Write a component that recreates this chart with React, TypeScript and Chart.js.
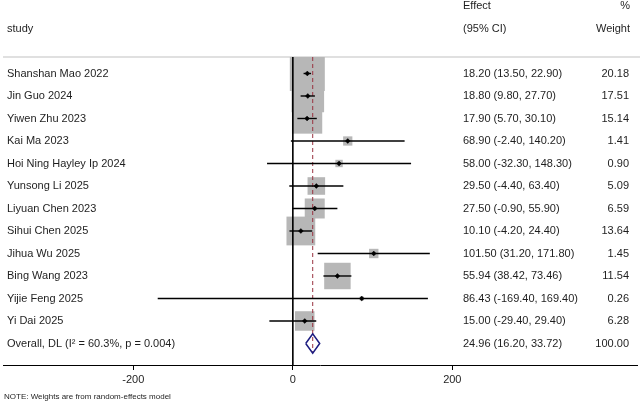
import React, { useEffect, useRef } from "react";
import { Chart, registerables } from "chart.js";

Chart.register(...registerables);

// Study-level estimates (random-effects meta-analysis)
const studies = [
  "Shanshan Mao 2022",
  "Jin Guo 2024",
  "Yiwen Zhu 2023",
  "Kai Ma 2023",
  "Hoi Ning Hayley Ip 2024",
  "Yunsong Li 2025",
  "Liyuan Chen 2023",
  "Sihui Chen 2025",
  "Jihua Wu 2025",
  "Bing Wang 2023",
  "Yijie Feng 2025",
  "Yi Dai 2025",
];
const effects = [18.2, 18.8, 17.9, 68.9, 58.0, 29.5, 27.5, 10.1, 101.5, 55.94, 86.43, 15.0];
const lower = [13.5, 9.8, 5.7, -2.4, -32.3, -4.4, -0.9, -4.2, 31.2, 38.42, -169.4, -29.4];
const upper = [22.9, 27.7, 30.1, 140.2, 148.3, 63.4, 55.9, 24.4, 171.8, 73.46, 169.4, 29.4];
const weights = [20.18, 17.51, 15.14, 1.41, 0.9, 5.09, 6.59, 13.64, 1.45, 11.54, 0.26, 6.28];

// Pooled estimate
const overallEffect = 24.96;
const overallLower = 16.2;
const overallUpper = 33.72;
const overallWeight = 100.0;
const overallLabel = "Overall, DL (I\u00B2 = 60.3%, p = 0.004)";

const xTicks = [-200, 0, 200];
const noteText = "NOTE: Weights are from random-effects model";

const FONT = "'Liberation Sans', Arial, sans-serif";
const TEXT_COLOR = "#1e1e1e";
const BOX_COLOR = "#b7b7b7";
const DIAMOND_COLOR = "#1c1c80";
const REF_COLOR = "#9a3340";

const overallRow = studies.length;
const Y_MIN = -0.733;
const Y_MAX = 12.956;
const DIAMOND_HALF = 0.43;
const MAX_BOX_SIDE = 35; // side of the heaviest study's square, px

const fmt = (v: number) => v.toFixed(2);
const ciText = (e: number, lo: number, hi: number) => `${fmt(e)} (${fmt(lo)}, ${fmt(hi)})`;

const forestText = {
  id: "forestText",
  beforeDatasetsDraw(chart: any) {
    const { ctx, chartArea } = chart;
    ctx.save();
    ctx.strokeStyle = "#d6d6d6";
    ctx.lineWidth = 1.5;
    ctx.beginPath();
    ctx.moveTo(chartArea.left, chartArea.top);
    ctx.lineTo(chartArea.right + 3, chartArea.top);
    ctx.stroke();
    ctx.restore();
  },
  afterDraw(chart: any) {
    const { ctx, scales } = chart;
    const ys = scales.y;
    const xLabel = 7;
    const xCi = 463;
    const xW = 629;
    ctx.save();
    ctx.fillStyle = TEXT_COLOR;
    ctx.font = `11px ${FONT}`;
    ctx.textBaseline = "middle";

    // column headers
    ctx.textAlign = "left";
    ctx.fillText("Effect", xCi, ys.getPixelForValue(-3));
    ctx.fillText("study", xLabel, ys.getPixelForValue(-2));
    ctx.fillText("(95% CI)", xCi, ys.getPixelForValue(-2));
    ctx.textAlign = "right";
    ctx.fillText("%", xW + 1, ys.getPixelForValue(-3));
    ctx.fillText("Weight", xW + 1, ys.getPixelForValue(-2));

    // rows
    studies.forEach((s, i) => {
      const y = ys.getPixelForValue(i);
      ctx.textAlign = "left";
      ctx.fillText(s, xLabel, y);
      ctx.fillText(ciText(effects[i], lower[i], upper[i]), xCi, y);
      ctx.textAlign = "right";
      ctx.fillText(fmt(weights[i]), xW, y);
    });
    const yo = ys.getPixelForValue(overallRow);
    ctx.textAlign = "left";
    ctx.fillText(overallLabel, xLabel, yo);
    ctx.fillText(ciText(overallEffect, overallLower, overallUpper), xCi, yo);
    ctx.textAlign = "right";
    ctx.fillText(fmt(overallWeight), xW, yo);

    // footnote
    ctx.textAlign = "left";
    ctx.font = `8px ${FONT}`;
    ctx.fillText(noteText, 4, 397);
    ctx.restore();
  },
};

export default function App() {
  const canvasRef = useRef<HTMLCanvasElement | null>(null);

  useEffect(() => {
    if (!canvasRef.current) return;

    const boxData = studies.map((_, i) => ({ x: effects[i], y: i }));
    const boxRadius = weights.map(
      (w) => ((MAX_BOX_SIDE / Math.SQRT2) * Math.sqrt(w / Math.max(...weights)))
    );

    const ciSets = studies.map((_, i) => ({
      type: "scatter" as const,
      data: [
        { x: lower[i], y: i },
        { x: upper[i], y: i },
      ],
      showLine: true,
      borderColor: "#000",
      borderWidth: 1.4,
      pointRadius: 0,
      order: 2,
    }));

    const chart = new Chart(canvasRef.current, {
      type: "scatter",
      data: {
        datasets: [
          {
            data: boxData,
            pointStyle: "rect",
            pointRadius: boxRadius,
            pointBackgroundColor: BOX_COLOR,
            pointBorderWidth: 0,
            borderWidth: 0,
            order: 6,
          },
          {
            data: [
              { x: 0, y: Y_MIN },
              { x: 0, y: Y_MAX },
            ],
            showLine: true,
            borderColor: "#000",
            borderWidth: 1,
            pointRadius: 0,
            order: 5,
          },
          {
            data: [
              { x: overallEffect, y: Y_MIN },
              { x: overallEffect, y: overallRow + DIAMOND_HALF },
            ],
            showLine: true,
            borderColor: REF_COLOR,
            borderWidth: 1,
            borderDash: [4, 3],
            pointRadius: 0,
            order: 4,
          },
          ...ciSets,
          {
            data: effects.map((e, i) => ({ x: e, y: i })),
            pointStyle: "rectRot",
            pointRadius: 2.4,
            pointBackgroundColor: "#000",
            pointBorderColor: "#000",
            pointBorderWidth: 0.5,
            order: 1,
          },
          {
            data: [
              { x: overallLower, y: overallRow },
              { x: overallEffect, y: overallRow - DIAMOND_HALF },
              { x: overallUpper, y: overallRow },
              { x: overallEffect, y: overallRow + DIAMOND_HALF },
              { x: overallLower, y: overallRow },
            ],
            showLine: true,
            borderColor: DIAMOND_COLOR,
            borderWidth: 1.5,
            pointRadius: 0,
            order: 0,
          },
        ] as any,
      },
      options: {
        animation: false,
        responsive: false,
        maintainAspectRatio: false,
        events: [],
        layout: { autoPadding: false, padding: { left: 3, right: 5, top: 57, bottom: 0 } },
        plugins: {
          legend: { display: false },
          tooltip: { enabled: false },
        },
        scales: {
          x: {
            type: "linear",
            min: -363.4,
            max: 431.6,
            afterBuildTicks: (scale: any) => {
              scale.ticks = xTicks.map((v) => ({ value: v }));
            },
            afterFit: (scale: any) => {
              scale.height = 41;
            },
            grid: {
              drawOnChartArea: false,
              drawTicks: true,
              tickLength: 5,
              color: "#000",
            },
            border: { display: true, color: "#000", width: 1 },
            ticks: {
              padding: 3,
              color: TEXT_COLOR,
              font: { family: FONT, size: 11 },
              callback: (v: any) => String(v),
            },
          },
          y: {
            type: "linear",
            display: false,
            reverse: true,
            min: Y_MIN,
            max: Y_MAX,
          },
        },
      },
      plugins: [forestText],
    });

    return () => chart.destroy();
  }, []);

  return (
    <div style={{ position: "absolute", left: 0, top: 0, width: 642, height: 406, background: "#fff" }}>
      <canvas ref={canvasRef} width={642} height={406} style={{ display: "block" }} />
    </div>
  );
}
